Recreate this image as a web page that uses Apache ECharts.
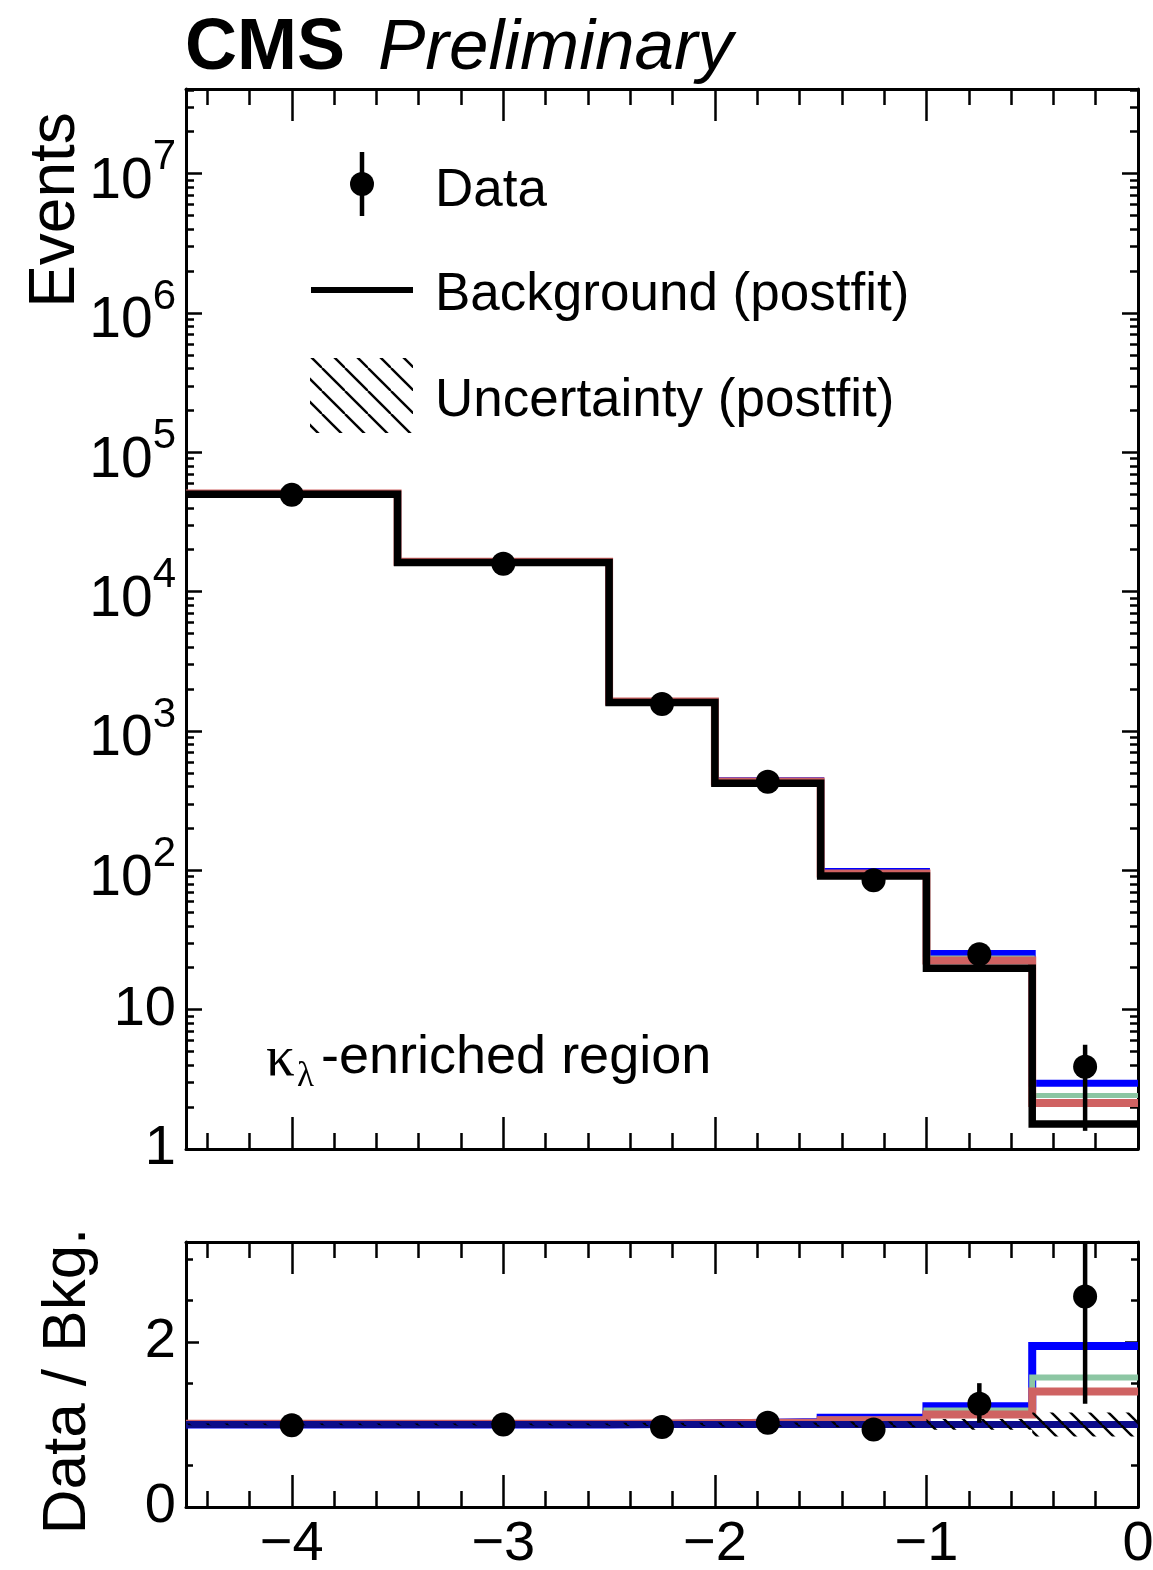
<!DOCTYPE html>
<html><head><meta charset="utf-8">
<script src="https://cdn.jsdelivr.net/npm/echarts@6/dist/echarts.min.js"></script>
<style>html,body{margin:0;padding:0;background:#fff}#c{width:1153px;height:1570px}</style>
</head><body><div id="c"></div>
<script>
// ---------------- data ----------------
const binEdges   = [-4.5, -3.5, -2.5, -2, -1.5, -1, -0.5, 0];
const binCenters = [-4, -3, -2.25, -1.75, -1.25, -0.75, -0.25];

const bkgPostfit  = [50100, 16200, 1600, 422, 91, 19.8, 1.51];
const dataCounts  = [49500, 15850, 1560, 432, 85, 25, 3.9];
const dataErrLow  = [49280, 15720, 1520, 411, 76, 20, 1.35];
const dataErrHigh = [49720, 15980, 1600, 453, 94, 30, 5.6];
const sigBlue     = [50300, 16300, 1630, 440, 98, 25.3, 2.97];
const sigGreen    = [50400, 16350, 1625, 436, 96, 23.5, 2.42];
const sigRed      = [50600, 16400, 1630, 434, 95, 22.5, 2.14];

const ratioData    = [0.99, 1.0, 0.97, 1.02, 0.94, 1.25, 2.55];
const ratioErrLow  = [0.98, 0.99, 0.95, 0.97, 0.84, 1.02, 1.25];
const ratioErrHigh = [1.0, 1.01, 0.99, 1.07, 1.04, 1.50, 3.7];
const ratioBkg     = [1, 1, 1, 1, 1, 1, 1];
const ratioUnc     = [0.01, 0.012, 0.02, 0.025, 0.035, 0.065, 0.145];
const ratioBlue    = [1.0, 1.0, 1.01, 1.03, 1.08, 1.22, 1.95];
const ratioGreen   = [1.0, 1.005, 1.015, 1.03, 1.06, 1.17, 1.57];
const ratioRed     = [1.008, 1.008, 1.015, 1.025, 1.05, 1.12, 1.40];

const xMajorTicks = [-4, -3, -2, -1, 0];
const xMinorTicks = [-4.4,-4.2,-3.8,-3.6,-3.4,-3.2,-2.8,-2.6,-2.4,-2.2,-1.8,-1.6,-1.4,-1.2,-0.8,-0.6,-0.4,-0.2];
const yMajorTicks = [1, 10, 100, 1e3, 1e4, 1e5, 1e6, 1e7];
const yMinorTicks = [];
for (let d = 1; d <= 1e7; d *= 10) for (let m = 2; m <= 9; m++) if (m * d <= 4.0e7) yMinorTicks.push(m * d);
const rMajorTicks = [0, 2];
const rMinorTicks = [0.5, 1, 1.5, 2.5, 3];

// ---------------- helpers ----------------
const F = '"Liberation Sans", Arial, Helvetica, sans-serif';
const BLUE = '#0000ff', GREEN = '#8cc6a3', RED = '#cf6262', NAVY = '#0c0c8a';

function histPoints(vals) {
  const pts = [];
  vals.forEach((v, i) => { pts.push([binEdges[i], v]); pts.push([binEdges[i + 1], v]); });
  return pts;
}
function hatchCanvas(size, lw) {
  const c = document.createElement('canvas');
  c.width = size; c.height = size;
  const g = c.getContext('2d');
  g.strokeStyle = '#000'; g.lineWidth = lw;
  for (let k = -1; k <= 1; k++) { g.beginPath(); g.moveTo(k * size, 0); g.lineTo(k * size + size, size); g.stroke(); }
  return c;
}
const hatchBand = hatchCanvas(19, 2.4);
const hatchLegend = hatchCanvas(23, 2.4);

const tickStyle = { color: '#000', width: 2.5 };
function xAxesFor(grid, labels) {
  const base = { type: 'value', gridIndex: grid, min: -4.5, max: 0, splitLine: { show: false } };
  const lab = labels ? {
    show: true, customValues: xMajorTicks, fontSize: 56, fontFamily: F, color: '#000', margin: 10,
    formatter: v => (v < 0 ? '\u2212' + (-v) : '0')
  } : { show: false };
  return [
    Object.assign({}, base, { position: 'bottom', axisLine: { show: true, onZero: false, lineStyle: { color: '#000', width: 3 } },
      axisTick: { show: true, inside: true, length: 32, customValues: xMajorTicks, lineStyle: tickStyle }, axisLabel: lab }),
    Object.assign({}, base, { position: 'bottom', axisLine: { show: false, onZero: false },
      axisTick: { show: true, inside: true, length: 16, customValues: xMinorTicks, lineStyle: tickStyle }, axisLabel: { show: false } }),
    Object.assign({}, base, { position: 'top', axisLine: { show: true, onZero: false, lineStyle: { color: '#000', width: 3 } },
      axisTick: { show: true, inside: true, length: 32, customValues: xMajorTicks, lineStyle: tickStyle }, axisLabel: { show: false } }),
    Object.assign({}, base, { position: 'top', axisLine: { show: false, onZero: false },
      axisTick: { show: true, inside: true, length: 16, customValues: xMinorTicks, lineStyle: tickStyle }, axisLabel: { show: false } })
  ];
}
function yAxesFor(grid, base, major, minor, majLen, minLen, label) {
  const b = Object.assign({ gridIndex: grid, splitLine: { show: false } }, base);
  return [
    Object.assign({}, b, { position: 'left', axisLine: { show: true, onZero: false, lineStyle: { color: '#000', width: 3 } },
      axisTick: { show: true, inside: true, length: majLen, customValues: major, lineStyle: tickStyle }, axisLabel: label }),
    Object.assign({}, b, { position: 'left', axisLine: { show: false, onZero: false },
      axisTick: { show: true, inside: true, length: minLen, customValues: minor, lineStyle: tickStyle }, axisLabel: { show: false } }),
    Object.assign({}, b, { position: 'right', axisLine: { show: true, onZero: false, lineStyle: { color: '#000', width: 3 } },
      axisTick: { show: true, inside: true, length: majLen, customValues: major, lineStyle: tickStyle }, axisLabel: { show: false } }),
    Object.assign({}, b, { position: 'right', axisLine: { show: false, onZero: false },
      axisTick: { show: true, inside: true, length: minLen, customValues: minor, lineStyle: tickStyle }, axisLabel: { show: false } })
  ];
}

const upperLabel = {
  show: true, customValues: yMajorTicks, margin: 10, fontSize: 56, fontFamily: F, color: '#000',
  formatter: v => {
    const e = Math.round(Math.log10(v));
    if (e === 0) return '1';
    if (e === 1) return '10';
    return '{b|10}{s|' + e + '}';
  },
  rich: {
    b: { fontSize: 57, fontFamily: F, color: '#000', lineHeight: 74, verticalAlign: 'bottom' },
    s: { fontSize: 42, fontFamily: F, color: '#000', lineHeight: 42, verticalAlign: 'top' }
  }
};
const lowerLabel = { show: true, customValues: rMajorTicks, margin: 10, fontSize: 56, fontFamily: F, color: '#000' };

function lineSeries(x, y, vals, color, width, z) {
  return { type: 'line', xAxisIndex: x, yAxisIndex: y, data: histPoints(vals), showSymbol: false, symbol: 'none',
    lineStyle: { color, width, cap: 'butt', join: 'miter', opacity: 1 }, z, silent: true, animation: false };
}
function errSeries(x, y, lo, hi, z) {
  return { type: 'custom', xAxisIndex: x, yAxisIndex: y, z, clip: true, silent: true,
    data: binCenters.map((c, i) => [c, lo[i], hi[i]]), encode: { x: 0, y: [1, 2] },
    renderItem: (p, api) => {
      const a = api.coord([api.value(0), api.value(1)]), b = api.coord([api.value(0), api.value(2)]);
      return { type: 'line', shape: { x1: a[0], y1: a[1], x2: b[0], y2: b[1] }, style: { stroke: '#000', lineWidth: 4.5 } };
    } };
}
function pointSeries(x, y, vals, z) {
  return { type: 'scatter', xAxisIndex: x, yAxisIndex: y, z, silent: true, symbol: 'circle', symbolSize: 24,
    itemStyle: { color: '#000', opacity: 1 }, data: binCenters.map((c, i) => [c, vals[i]]) };
}

const option = {
  animation: false,
  backgroundColor: '#fff',
  grid: [
    { left: 186, right: 15, top: 89, height: 1060, containLabel: false, outerBoundsMode: 'none' },
    { left: 186, right: 15, top: 1242, height: 265, containLabel: false, outerBoundsMode: 'none' }
  ],
  xAxis: [].concat(xAxesFor(0, false), xAxesFor(1, true)),
  yAxis: [].concat(
    yAxesFor(0, { type: 'log', logBase: 10, min: 1, max: 4.05e7 }, yMajorTicks, yMinorTicks, 16, 8, upperLabel),
    yAxesFor(1, { type: 'value', min: 0, max: 3.21 }, rMajorTicks, rMinorTicks, 13, 7, lowerLabel)
  ),
  series: [
    lineSeries(0, 0, sigBlue, BLUE, 7, 3),
    lineSeries(0, 0, sigGreen, GREEN, 5, 4),
    lineSeries(0, 0, sigRed, RED, 8, 5),
    lineSeries(0, 0, bkgPostfit, '#000', 7.5, 6),
    errSeries(0, 0, dataErrLow, dataErrHigh, 7),
    pointSeries(0, 0, dataCounts, 8),

    lineSeries(4, 4, ratioBlue, BLUE, 8, 3),
    lineSeries(4, 4, ratioGreen, GREEN, 6, 4),
    lineSeries(4, 4, ratioRed, RED, 8, 5),
    lineSeries(4, 4, ratioBkg, NAVY, 7, 6),
    { type: 'custom', xAxisIndex: 4, yAxisIndex: 4, z: 7, silent: true, clip: true,
      data: ratioUnc.map((u, i) => [binEdges[i], binEdges[i + 1], u]), encode: { x: [0, 1] },
      renderItem: (p, api) => {
        const u = api.value(2);
        const a = api.coord([api.value(0), 1 + u]), b = api.coord([api.value(1), 1 - u]);
        return { type: 'rect', shape: { x: a[0], y: a[1], width: b[0] - a[0], height: b[1] - a[1] },
          style: { fill: { image: hatchBand, repeat: 'repeat' }, stroke: null } };
      } },
    errSeries(4, 4, ratioErrLow, ratioErrHigh, 8),
    pointSeries(4, 4, ratioData, 9)
  ],
  graphic: [
    { type: 'text', x: 185, y: 49, style: { text: 'CMS', fontSize: 72, fontWeight: 'bold', fontFamily: F, fill: '#000', align: 'left', verticalAlign: 'middle' } },
    { type: 'text', x: 378, y: 49, style: { text: 'Preliminary', fontSize: 71, fontStyle: 'italic', fontFamily: F, fill: '#000', align: 'left', verticalAlign: 'middle' } },
    { type: 'text', x: 56, y: 210, rotation: Math.PI / 2, style: { text: 'Events', fontSize: 64, fontFamily: F, fill: '#000', align: 'center', verticalAlign: 'middle' } },
    { type: 'text', x: 68, y: 1381, rotation: Math.PI / 2, style: { text: 'Data / Bkg.', fontSize: 62, fontFamily: F, fill: '#000', align: 'center', verticalAlign: 'middle' } },
    // legend
    { type: 'line', shape: { x1: 362, y1: 152, x2: 362, y2: 216 }, style: { stroke: '#000', lineWidth: 4.5 } },
    { type: 'circle', shape: { cx: 362, cy: 184, r: 12 }, style: { fill: '#000' } },
    { type: 'text', x: 435, y: 191, style: { text: 'Data', fontSize: 53, fontFamily: F, fill: '#000', align: 'left', verticalAlign: 'middle' } },
    { type: 'line', shape: { x1: 311, y1: 290, x2: 413, y2: 290 }, style: { stroke: '#000', lineWidth: 6 } },
    { type: 'text', x: 435, y: 295, style: { text: 'Background (postfit)', fontSize: 53, fontFamily: F, fill: '#000', align: 'left', verticalAlign: 'middle' } },
    { type: 'rect', shape: { x: 310, y: 358, width: 103, height: 75 }, style: { fill: { image: hatchLegend, repeat: 'repeat' }, stroke: null } },
    { type: 'text', x: 435, y: 401, style: { text: 'Uncertainty (postfit)', fontSize: 53, fontFamily: F, fill: '#000', align: 'left', verticalAlign: 'middle' } },
    // region label
    { type: 'text', x: 266, y: 1060, style: { text: '\u03ba', fontSize: 57, fontFamily: '"Liberation Serif", "DejaVu Serif", serif', fill: '#000', align: 'left', verticalAlign: 'middle' } },
    { type: 'text', x: 297, y: 1077, style: { text: '\u03bb', fontSize: 35, fontFamily: '"Liberation Serif", "DejaVu Serif", serif', fill: '#000', align: 'left', verticalAlign: 'middle' } },
    { type: 'text', x: 321, y: 1058, style: { text: '-enriched region', fontSize: 54, fontFamily: F, fill: '#000', align: 'left', verticalAlign: 'middle' } }
  ]
};

const chart = echarts.init(document.getElementById('c'), null, { renderer: 'canvas' });
chart.setOption(option);
</script>
</body></html>
